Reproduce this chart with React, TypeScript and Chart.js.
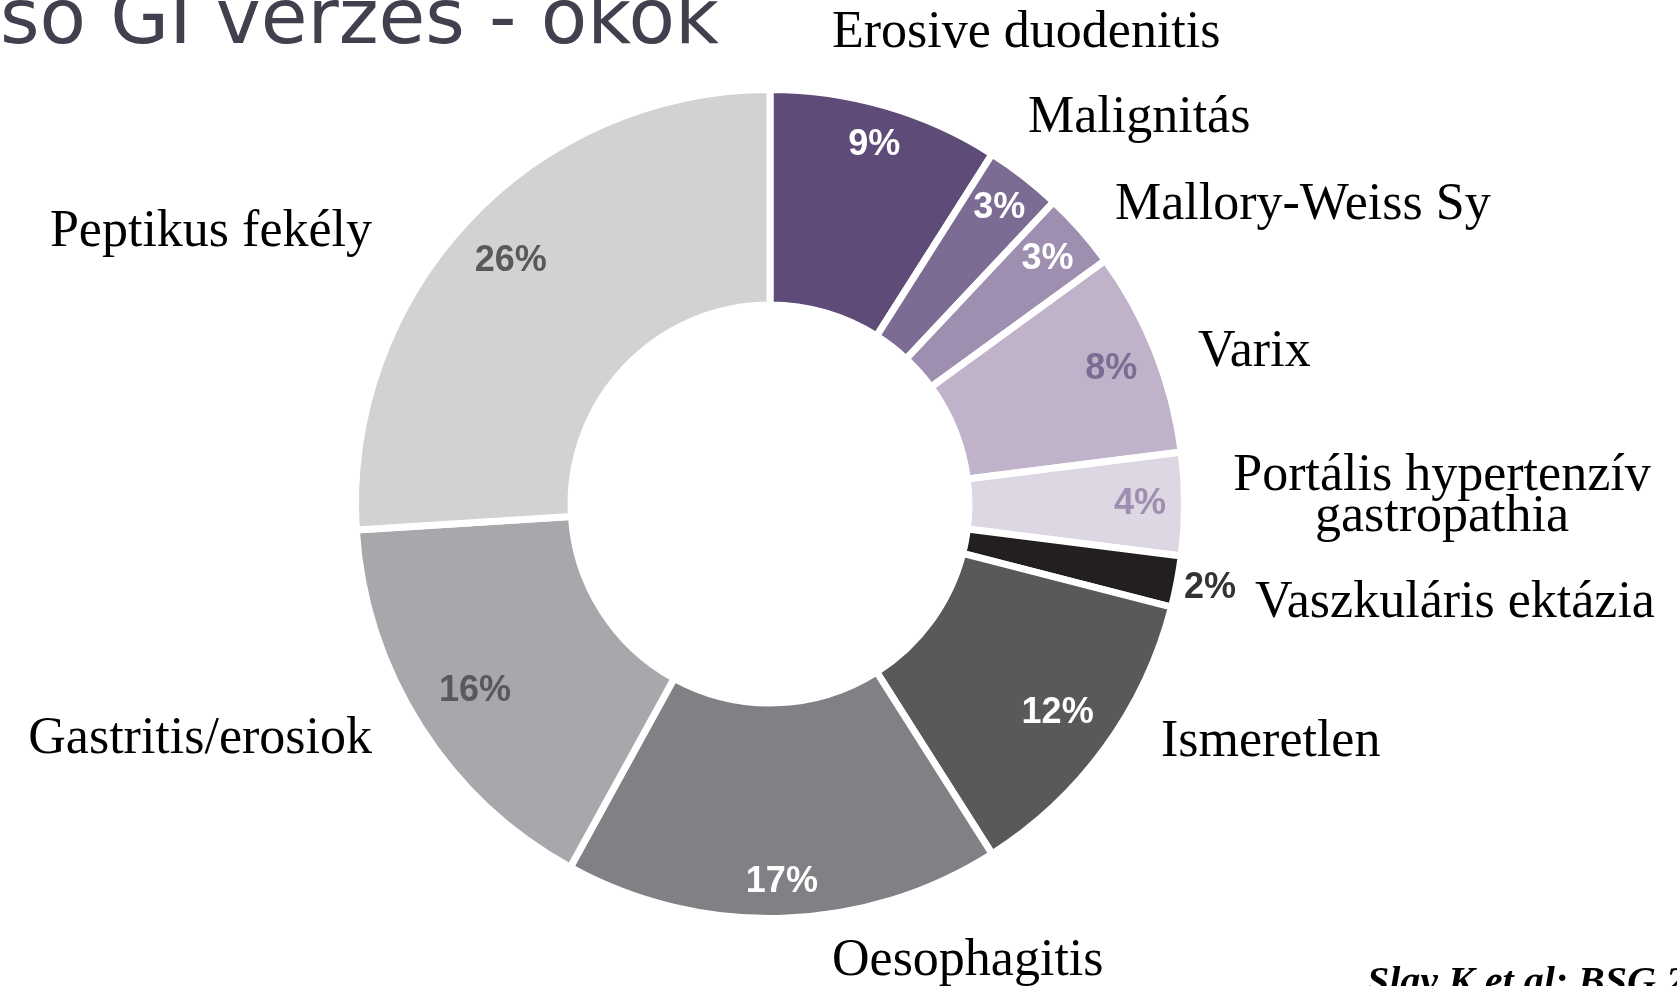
import React, { useEffect, useRef } from "react";
import { Chart, registerables } from "chart.js";

Chart.register(...registerables);

// ---- data ----
const categories = [
  "Erosive duodenitis",
  "Malignitás",
  "Mallory-Weiss Sy",
  "Varix",
  "Portális hypertenzív gastropathia",
  "Vaszkuláris ektázia",
  "Ismeretlen",
  "Oesophagitis",
  "Gastritis/erosiok",
  "Peptikus fekély",
];
const percentages = [9, 3, 3, 8, 4, 2, 12, 17, 16, 26];
const titleText = "ső GI vérzés - okok";
const citationText = "Slay K et al; BSG 20";

// ---- styles ----
const sliceColors = [
  "#5f4b78",
  "#7c6b93",
  "#9e8fb0",
  "#bfb2c9",
  "#ddd6e3",
  "#231f20",
  "#58595b",
  "#808185",
  "#a7a8ab",
  "#d1d2d4",
];
const pctColors = [
  "#ffffff",
  "#ffffff",
  "#ffffff",
  "#7c6b93",
  "#9e8fb0",
  "#333333",
  "#ffffff",
  "#ffffff",
  "#58595b",
  "#58595b",
];
// radius of percentage text as a fraction of the visible outer radius
const pctRadius = [0.91, 0.91, 0.9, 0.893, 0.9, 1.09, 0.865, 0.92, 0.85, 0.865];
// outer label layout: offsets from the doughnut centre (px), alignment, lines
const outerLabelLayout = [
  { dx: 62, dy: -457, align: "left", lines: ["Erosive duodenitis"] },
  { dx: 258, dy: -372, align: "left", lines: ["Malignitás"] },
  { dx: 345, dy: -285, align: "left", lines: ["Mallory-Weiss Sy"] },
  { dx: 428, dy: -138, align: "left", lines: ["Varix"] },
  { dx: 672, dy: -14, align: "center", lines: ["Portális hypertenzív", "gastropathia"] },
  { dx: 485, dy: 113, align: "left", lines: ["Vaszkuláris ektázia"] },
  { dx: 391, dy: 252, align: "left", lines: ["Ismeretlen"] },
  { dx: 62, dy: 471, align: "left", lines: ["Oesophagitis"] },
  { dx: -398, dy: 249, align: "right", lines: ["Gastritis/erosiok"] },
  { dx: -398, dy: -258, align: "right", lines: ["Peptikus fekély"] },
];
const BORDER = 7;
const LINE_GAP = 41;

const labelPlugin = {
  id: "labels",
  afterDraw(chart: any) {
    const ctx = chart.ctx as CanvasRenderingContext2D;
    const meta = chart.getDatasetMeta(0);
    const first = meta.data[0] as any;
    const cx = first.x;
    const cy = first.y;
    const R = first.outerRadius - BORDER / 2;
    ctx.save();
    // percentage labels
    ctx.font = 'bold 36px "Liberation Sans", Arial, sans-serif';
    ctx.textAlign = "center";
    ctx.textBaseline = "middle";
    meta.data.forEach((arc: any, i: number) => {
      const mid = (arc.startAngle + arc.endAngle) / 2;
      const r = R * pctRadius[i];
      ctx.fillStyle = pctColors[i];
      ctx.fillText(percentages[i] + "%", cx + Math.cos(mid) * r, cy + Math.sin(mid) * r);
    });
    // outer category labels
    ctx.font = '52px "Liberation Serif", serif';
    ctx.textBaseline = "alphabetic";
    ctx.fillStyle = "#000000";
    outerLabelLayout.forEach((l) => {
      ctx.textAlign = l.align as CanvasTextAlign;
      l.lines.forEach((line, k) => {
        ctx.fillText(line, cx + l.dx, cy + l.dy + k * LINE_GAP);
      });
    });
    // title (cropped at top-left)
    ctx.font = '76px "DejaVu Sans", sans-serif';
    ctx.textAlign = "left";
    ctx.fillStyle = "#40404e";
    ctx.fillText(titleText, 0, 43);
    // citation
    ctx.font = 'italic bold 40px "Liberation Serif", serif';
    ctx.fillStyle = "#000000";
    ctx.fillText(citationText, 1367, 994);
    ctx.restore();
  },
};

export default function App() {
  const ref = useRef<HTMLCanvasElement>(null);
  useEffect(() => {
    if (!ref.current) return;
    const chart = new Chart(ref.current, {
      type: "doughnut",
      data: {
        labels: categories,
        datasets: [
          {
            data: percentages,
            backgroundColor: sliceColors,
            borderColor: "#ffffff",
            borderWidth: BORDER,
            borderJoinStyle: "miter",
          } as any,
        ],
      },
      options: {
        responsive: false,
        animation: false,
        cutout: "48%",
        layout: { padding: { left: 352, top: 86, right: 489, bottom: 64 } },
        plugins: {
          legend: { display: false },
          tooltip: { enabled: false },
        },
      },
      plugins: [labelPlugin],
    });
    return () => chart.destroy();
  }, []);
  return (
    <div style={{ position: "absolute", left: 0, top: 0, width: 1677, height: 986, background: "#fff" }}>
      <canvas ref={ref} width={1677} height={986} />
    </div>
  );
}
